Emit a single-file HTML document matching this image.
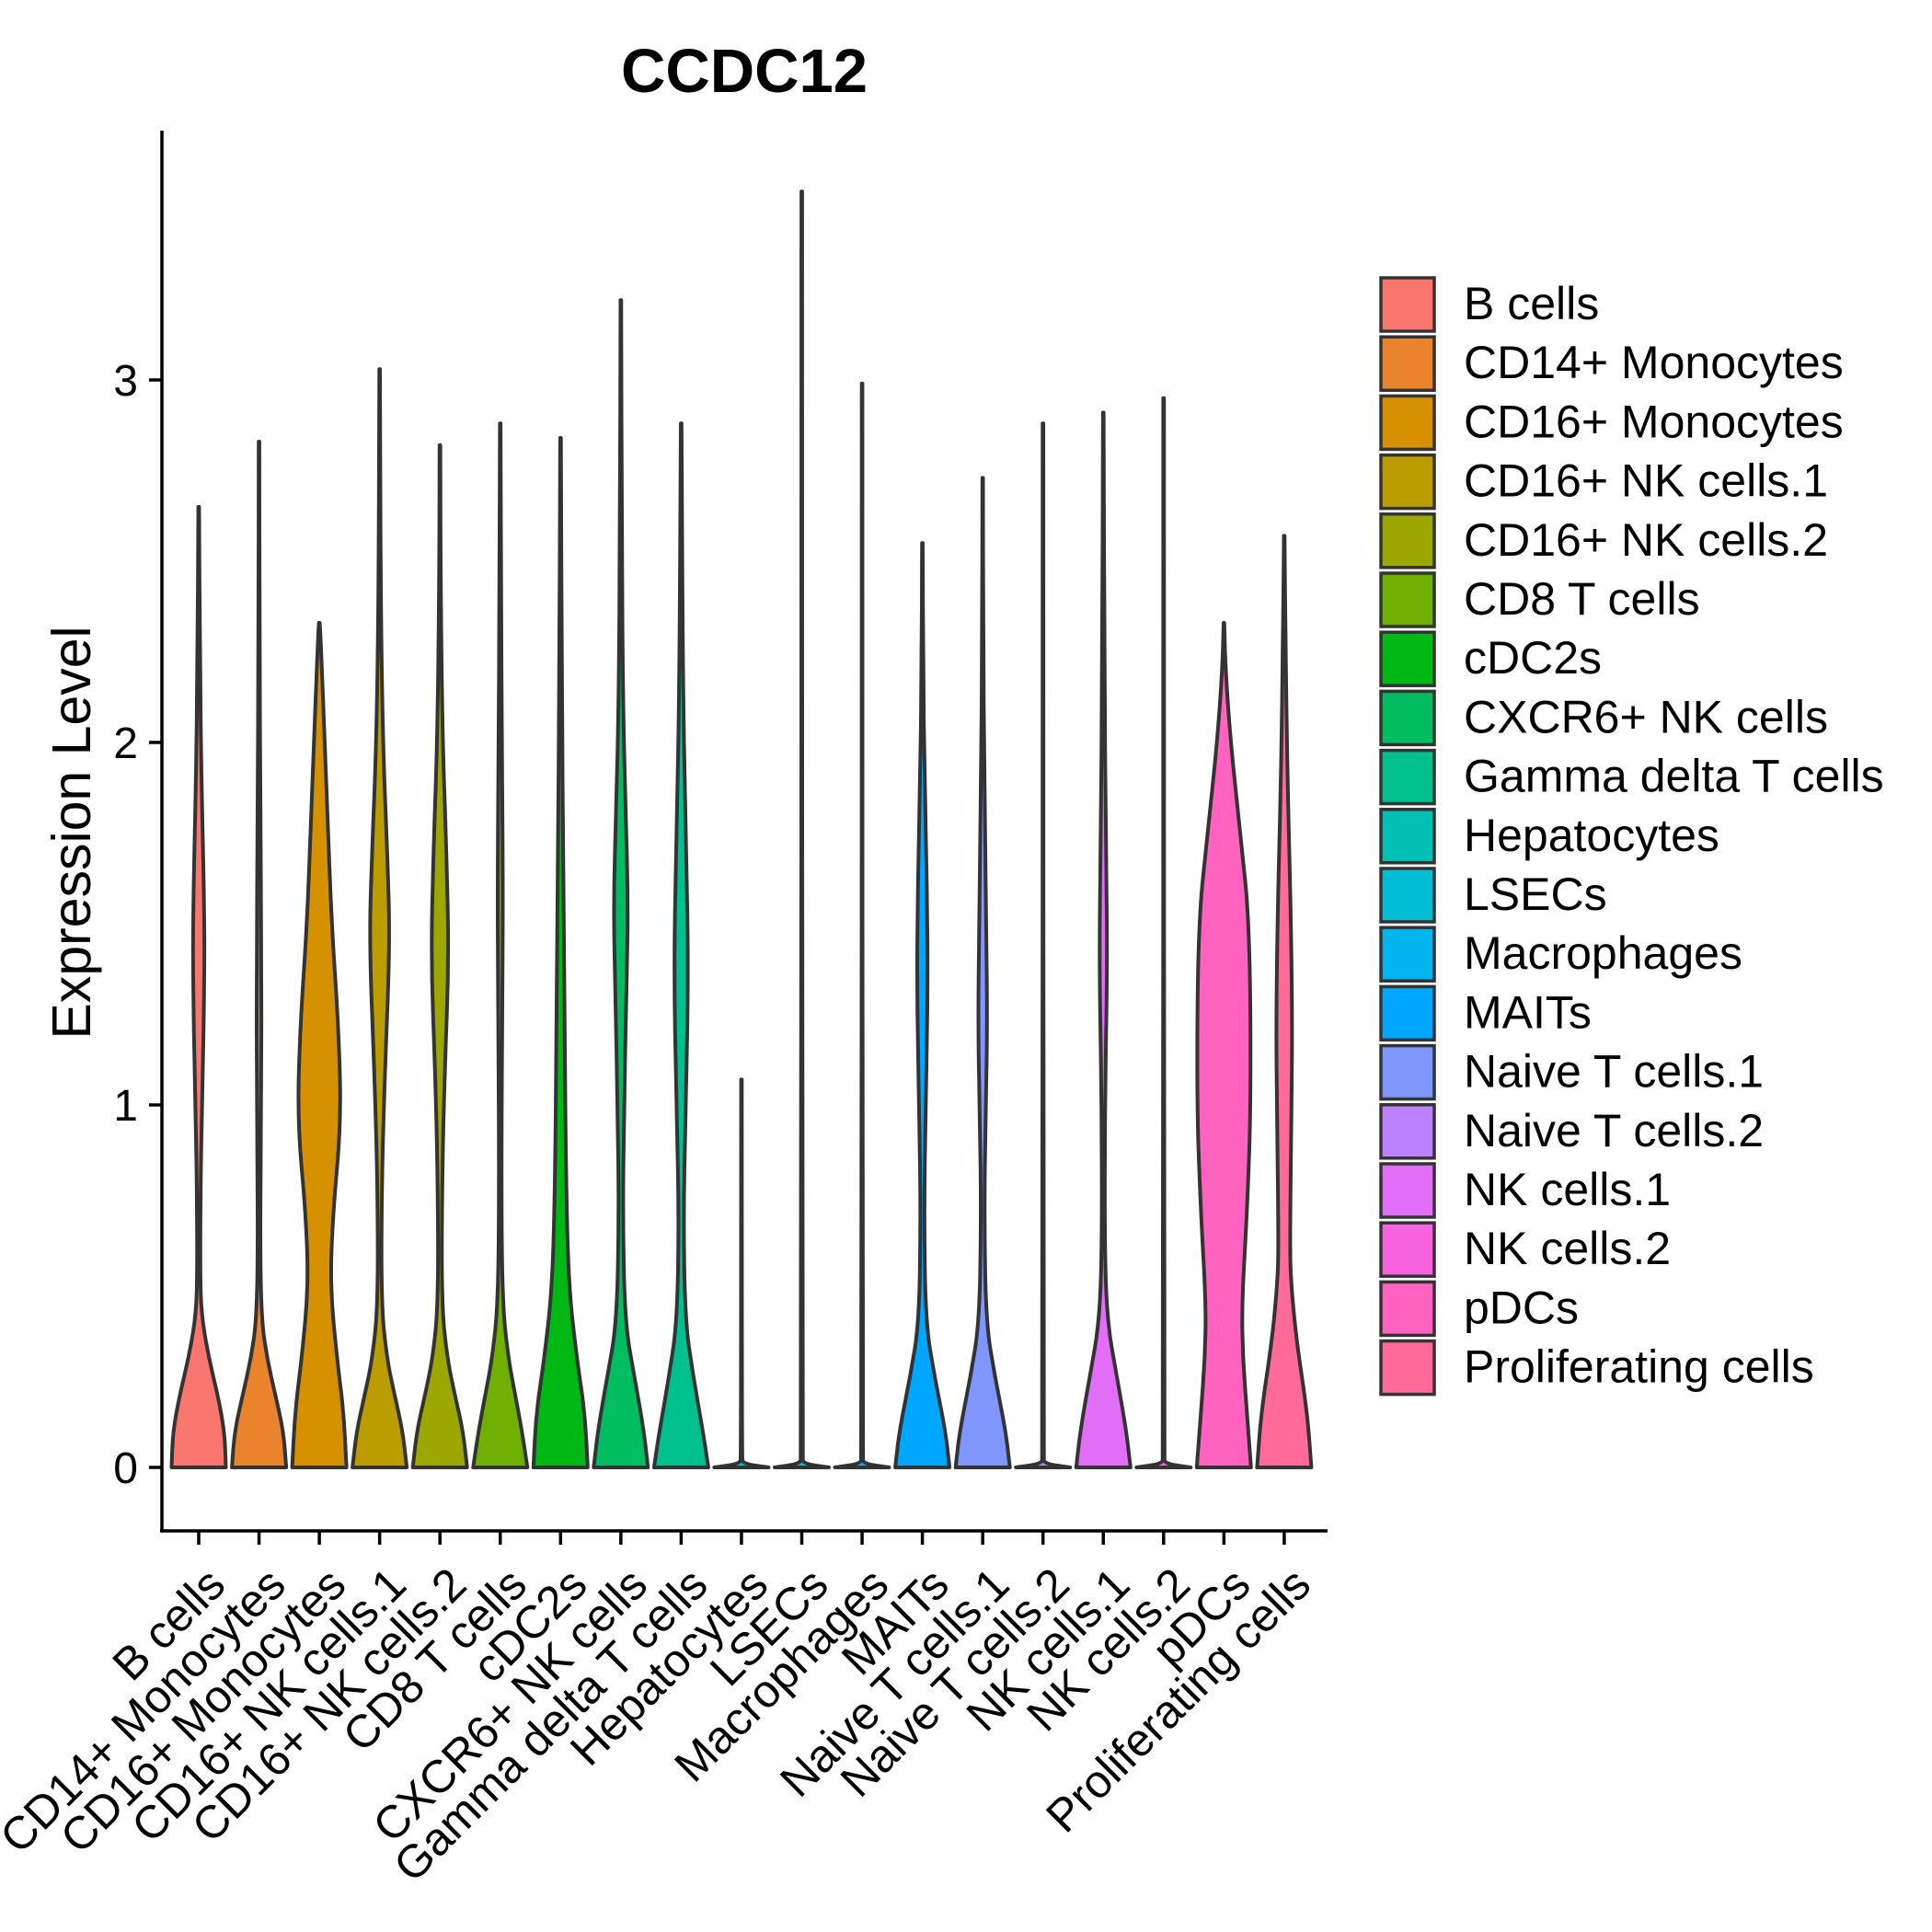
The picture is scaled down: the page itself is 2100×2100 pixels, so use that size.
<!DOCTYPE html>
<html><head><meta charset="utf-8"><style>
html,body{margin:0;padding:0;background:#fff;}
svg{display:block;font-family:"Liberation Sans",Arial,sans-serif;}
</style></head>
<body>
<svg id="chart" width="2100" height="2100" viewBox="0 0 2100 2100" xmlns="http://www.w3.org/2000/svg">
<rect x="0" y="0" width="2100" height="2100" fill="#fff"/>
<text x="809" y="100" text-anchor="middle" font-size="67" font-weight="bold">CCDC12</text>
<text transform="translate(98,905) rotate(-90)" text-anchor="middle" font-size="59">Expression Level</text>
<g id="violins"></g>
<g id="axes"></g>
<g id="legend"></g>
</svg>
<script>
const categories = ["B cells","CD14+ Monocytes","CD16+ Monocytes","CD16+ NK cells.1","CD16+ NK cells.2","CD8 T cells","cDC2s","CXCR6+ NK cells","Gamma delta T cells","Hepatocytes","LSECs","Macrophages","MAITs","Naive T cells.1","Naive T cells.2","NK cells.1","NK cells.2","pDCs","Proliferating cells"];
const colors = ["#F8766D","#E9842C","#D69100","#BC9D00","#9CA700","#6FB000","#00B813","#00BD61","#00C08E","#00C0B4","#00BDD4","#00B5EE","#00A7FF","#7F96FF","#BC81FF","#E26EF7","#F863DF","#FF62BF","#FF6A9A"];
const maxValues = [2.65,2.83,2.33,3.03,2.82,2.88,2.84,3.22,2.88,1.07,3.52,2.99,2.55,2.73,2.88,2.91,2.95,2.33,2.57];
// density profiles: [expression value, relative half-width]
const profiles = [
 [[0,1],[0.1,0.95],[0.2,0.7],[0.3,0.38],[0.4,0.14],[0.5,0.05],[0.8,0.07],[1.0,0.13],[1.4,0.22],[1.6,0.19],[1.9,0.1],[2.2,0.05]],
 [[0,1],[0.1,0.9],[0.2,0.6],[0.3,0.3],[0.4,0.1],[0.6,0.04],[1.0,0.08],[1.4,0.09],[1.8,0.05],[2.3,0.02]],
 [[0,1],[0.15,0.9],[0.3,0.65],[0.5,0.4],[0.7,0.5],[0.95,0.8],[1.2,0.72],[1.5,0.45],[1.8,0.3],[2.1,0.15],[2.3,0.04]],
 [[0,1],[0.1,0.85],[0.2,0.55],[0.3,0.27],[0.45,0.06],[0.8,0.08],[1.1,0.2],[1.45,0.38],[1.7,0.28],[2.0,0.12],[2.4,0.04]],
 [[0,1],[0.1,0.85],[0.2,0.55],[0.3,0.27],[0.45,0.06],[0.8,0.08],[1.1,0.18],[1.4,0.33],[1.7,0.24],[2.0,0.1],[2.4,0.03]],
 [[0,1],[0.1,0.8],[0.2,0.55],[0.3,0.3],[0.45,0.08],[0.8,0.04],[1.3,0.08],[1.6,0.1],[2.0,0.06],[2.4,0.03]],
 [[0,1],[0.15,0.9],[0.3,0.6],[0.5,0.3],[0.8,0.2],[1.2,0.15],[1.7,0.1],[2.1,0.05]],
 [[0,1],[0.1,0.85],[0.25,0.5],[0.4,0.15],[0.7,0.07],[1.0,0.12],[1.3,0.2],[1.55,0.27],[1.8,0.18],[2.1,0.08],[2.6,0.03]],
 [[0,1],[0.1,0.8],[0.25,0.45],[0.4,0.15],[0.7,0.08],[1.0,0.18],[1.4,0.27],[1.8,0.15],[2.2,0.06]],
 [[0,1],[0.01,0.05],[0.03,0.02]],
 [[0,1],[0.01,0.06],[0.03,0.02]],
 [[0,1],[0.01,0.05],[0.03,0.02]],
 [[0,1],[0.1,0.85],[0.25,0.45],[0.4,0.12],[0.7,0.06],[1.0,0.12],[1.3,0.2],[1.6,0.17],[1.9,0.08],[2.2,0.03]],
 [[0,1],[0.1,0.85],[0.25,0.45],[0.4,0.12],[0.7,0.06],[0.95,0.1],[1.2,0.17],[1.5,0.13],[1.9,0.06],[2.3,0.02]],
 [[0,1],[0.01,0.05],[0.03,0.02]],
 [[0,1],[0.1,0.85],[0.25,0.5],[0.4,0.15],[0.6,0.05],[1.0,0.06],[1.4,0.15],[1.7,0.1],[2.2,0.04]],
 [[0,1],[0.01,0.05],[0.03,0.02]],
 [[0,1],[0.15,0.85],[0.3,0.7],[0.45,0.66],[0.7,0.85],[1.0,1.0],[1.5,0.95],[1.75,0.6],[2.0,0.25],[2.2,0.06]],
 [[0,1],[0.15,0.85],[0.35,0.45],[0.5,0.26],[0.6,0.21],[0.9,0.25],[1.2,0.3],[1.5,0.25],[1.9,0.12],[2.3,0.04]]
];
const yTicks = [0,1,2,3];
const yTickLabels = ["0","1","2","3"];

const NS = "http://www.w3.org/2000/svg";
const X0 = 216, DX = 65.55, HALF = 29.5;
const Y0 = 1595, PPU = 394;
function xScale(i){ return X0 + i*DX; }
function yScale(v){ return Y0 - v*PPU; }
function mk(tag, attrs, parent){ const e=document.createElementNS(NS,tag); for(const k in attrs) e.setAttribute(k,attrs[k]); parent.appendChild(e); return e; }

const gv = document.getElementById('violins');
categories.forEach((c,i)=>{
  const cx = xScale(i);
  const pts = profiles[i].concat([[maxValues[i],0.012]]);
  let right=[], left=[];
  pts.forEach(p=>{ right.push([cx + p[1]*HALF, yScale(p[0])]); });
  for(let k=pts.length-1;k>=0;k--){ left.push([cx - pts[k][1]*HALF, yScale(pts[k][0])]); }
  let d = "M"+left[left.length-1][0].toFixed(1)+","+left[left.length-1][1].toFixed(1)+" L"+right[0][0].toFixed(1)+","+right[0][1].toFixed(1);
  function smooth(arr){
    let s="";
    for(let k=1;k<arr.length;k++){
      const p=arr[k-1], q=arr[k];
      const mx=(p[0]+q[0])/2, my=(p[1]+q[1])/2;
      s+=" Q"+p[0].toFixed(1)+","+p[1].toFixed(1)+" "+mx.toFixed(1)+","+my.toFixed(1);
    }
    return s;
  }
  d += smooth(right) + " L"+right[right.length-1][0].toFixed(1)+","+right[right.length-1][1].toFixed(1);
  d += " L"+left[0][0].toFixed(1)+","+left[0][1].toFixed(1);
  d += smooth(left) + " L"+left[left.length-1][0].toFixed(1)+","+left[left.length-1][1].toFixed(1)+" Z";
  const p = mk('path',{d:d, fill:colors[i], stroke:'#333333','stroke-width':4,'stroke-linejoin':'round'},gv);
  
  
});

const ga = document.getElementById('axes');
const yl = mk('line',{x1:176,y1:142,x2:176,y2:1665,stroke:'#000','stroke-width':3.5},ga);


const xl = mk('line',{x1:174,y1:1664,x2:1443,y2:1664,stroke:'#000','stroke-width':3.5},ga);


yTicks.forEach((v,k)=>{
  const y=yScale(v);
  const t=mk('line',{x1:162,y1:y,x2:176,y2:y,stroke:'#000','stroke-width':3.5},ga);
  
  
  const tx=mk('text',{x:150,y:y+17,'text-anchor':'end','font-size':48},ga);
  tx.textContent=yTickLabels[k];
  
  
});
categories.forEach((c,i)=>{
  const x=xScale(i);
  const t=mk('line',{x1:x,y1:1664,x2:x,y2:1679,stroke:'#000','stroke-width':3.5},ga);
  
  
  const tx=mk('text',{transform:'translate('+(x+6)+',1700) rotate(-45)','text-anchor':'end','font-size':50,dy:'0.72em'},ga);
  tx.textContent=c;
  
  
});

const gl = document.getElementById('legend');
categories.forEach((c,i)=>{
  const y=300+i*64.2;
  const g=mk('g',{},gl);
  
  
  const r=mk('rect',{x:1501,y:y+2,width:58,height:58,fill:colors[i],stroke:'#333333','stroke-width':3.5},g);
  
  
  const t=mk('text',{x:1591,y:y+47,'font-size':50},g);
  t.textContent=c;
  
  
});
</script>
</body></html>
